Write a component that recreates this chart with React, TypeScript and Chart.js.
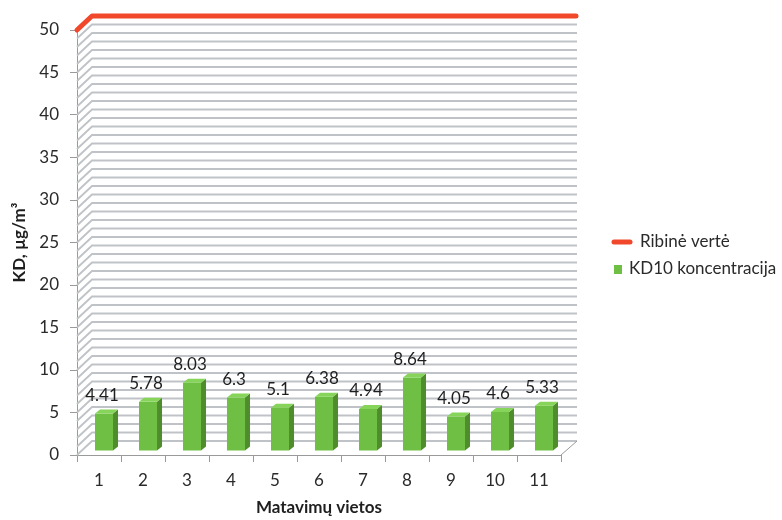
import React, { useEffect, useRef } from 'react';
import { Chart, registerables } from 'chart.js';

Chart.register(...registerables);

const categories = ['1', '2', '3', '4', '5', '6', '7', '8', '9', '10', '11'];
const kd10Values = [4.41, 5.78, 8.03, 6.3, 5.1, 6.38, 4.94, 8.64, 4.05, 4.6, 5.33];
const limitValues = [50, 50, 50, 50, 50, 50, 50, 50, 50, 50, 50];
const seriesNames = ['Ribinė vertė', 'KD10 koncentracija'];
const axisTitles = { x: 'Matavimų vietos', y: 'KD, µg/m³' };
const yMin = 0;
const yMax = 50;
const yMajorStep = 5;
const yMinorStep = 1;

const FONT = 'Lato, "Open Sans", sans-serif';
const RED = '#F1482B';
const GREEN = '#6FBF44';
const GREEN_SIDE = '#4E8C2C';
const GREEN_TOP = '#86D45A';
const GRID = '#bfc3c7';
const AXIS = '#9a9a9a';
const TEXT = '#2a2a2a';

// 3D geometry
const WALL_DX = 15;
const WALL_DY = 14;
const BAR_OFF_X = 5;
const BAR_OFF_Y = 4;
const BAR_DEPTH_X = 5;
const BAR_DEPTH_Y = 4;

const threeD = {
  id: 'threeD',
  beforeDatasetsDraw(chart: any) {
    const { ctx, chartArea, scales } = chart;
    const ys = scales.y;
    ctx.save();
    ctx.strokeStyle = GRID;
    ctx.lineWidth = 1.8;
    for (let v = yMin; v <= yMax; v += yMinorStep) {
      const y = ys.getPixelForValue(v);
      ctx.beginPath();
      ctx.moveTo(chartArea.left, y);
      ctx.lineTo(chartArea.left + WALL_DX, y - WALL_DY);
      ctx.lineTo(chartArea.right + WALL_DX + 1, y - WALL_DY);
      ctx.stroke();
    }
    // floor right edge
    const y0 = ys.getPixelForValue(yMin);
    ctx.strokeStyle = AXIS;
    ctx.lineWidth = 1;
    ctx.beginPath();
    ctx.moveTo(chartArea.right, y0);
    ctx.lineTo(chartArea.right + WALL_DX + 1, y0 - WALL_DY);
    ctx.stroke();

    // limit line on back wall
    const lineMeta = chart.getDatasetMeta(0);
    const limit = chart.data.datasets[0].data[0];
    const yl = ys.getPixelForValue(limit);
    if (!lineMeta.hidden) {
      ctx.strokeStyle = RED;
      ctx.lineWidth = 5;
      ctx.lineCap = 'round';
      ctx.lineJoin = 'round';
      ctx.beginPath();
      ctx.moveTo(chartArea.left, yl);
      ctx.lineTo(chartArea.left + WALL_DX, yl - WALL_DY);
      ctx.lineTo(chartArea.right + WALL_DX, yl - WALL_DY);
      ctx.stroke();
    }
    ctx.restore();
  },
  beforeDatasetDraw(chart: any, args: any) {
    if (args.index === 1) {
      chart.ctx.save();
      chart.ctx.translate(BAR_OFF_X, -BAR_OFF_Y);
    }
  },
  afterDatasetDraw(chart: any, args: any) {
    if (args.index !== 1) return;
    const ctx = chart.ctx;
    const meta = chart.getDatasetMeta(1);
    meta.data.forEach((bar: any) => {
      const half = bar.width / 2;
      const r = bar.x + half;
      const l = bar.x - half;
      ctx.fillStyle = GREEN_SIDE;
      ctx.beginPath();
      ctx.moveTo(r, bar.y);
      ctx.lineTo(r + BAR_DEPTH_X, bar.y - BAR_DEPTH_Y);
      ctx.lineTo(r + BAR_DEPTH_X, bar.base - BAR_DEPTH_Y);
      ctx.lineTo(r, bar.base);
      ctx.closePath();
      ctx.fill();
      ctx.fillStyle = GREEN_TOP;
      ctx.beginPath();
      ctx.moveTo(l, bar.y);
      ctx.lineTo(l + BAR_DEPTH_X, bar.y - BAR_DEPTH_Y);
      ctx.lineTo(r + BAR_DEPTH_X, bar.y - BAR_DEPTH_Y);
      ctx.lineTo(r, bar.y);
      ctx.closePath();
      ctx.fill();
    });
    // value labels
    ctx.fillStyle = '#1e1e1e';
    ctx.font = `17px ${FONT}`;
    ctx.textAlign = 'center';
    ctx.textBaseline = 'middle';
    const values = chart.data.datasets[1].data;
    meta.data.forEach((bar: any, i: number) => {
      ctx.fillText(String(values[i]), bar.x - 2, bar.y - 18);
    });
    ctx.restore();
  },
  afterDraw(chart: any) {
    const ctx = chart.ctx;
    ctx.save();
    ctx.font = `17px ${FONT}`;
    ctx.fillStyle = TEXT;
    ctx.textBaseline = 'middle';
    ctx.textAlign = 'left';
    const ds = chart.data.datasets;
    // item 1: line marker
    ctx.strokeStyle = ds[0].borderColor;
    ctx.lineWidth = 5;
    ctx.lineCap = 'round';
    ctx.beginPath();
    ctx.moveTo(614, 242);
    ctx.lineTo(630, 242);
    ctx.stroke();
    ctx.fillText(ds[0].label, 640, 242);
    // item 2: square marker
    ctx.fillStyle = ds[1].backgroundColor;
    ctx.fillRect(614, 265, 8, 9);
    ctx.fillStyle = TEXT;
    ctx.fillText(ds[1].label, 629, 269);
    ctx.restore();
  },
};

export default function App() {
  const ref = useRef<HTMLCanvasElement | null>(null);
  useEffect(() => {
    if (!ref.current) return;
    Chart.defaults.font.family = FONT;
    const chart = new Chart(ref.current, {
      type: 'bar',
      data: {
        labels: categories,
        datasets: [
          {
            type: 'line',
            label: seriesNames[0],
            data: limitValues,
            borderColor: RED,
            backgroundColor: RED,
            borderWidth: 0,
            pointRadius: 0,
            showLine: false,
          } as any,
          {
            type: 'bar',
            label: seriesNames[1],
            data: kd10Values,
            backgroundColor: GREEN,
            borderWidth: 0,
            barPercentage: 0.41,
            categoryPercentage: 1,
            clip: false,
          } as any,
        ],
      },
      plugins: [threeD],
      options: {
        animation: false,
        responsive: true,
        maintainAspectRatio: false,
        layout: { padding: { top: 30, right: 221, left: 0, bottom: 0 } },
        plugins: {
          legend: { display: false },
          tooltip: { enabled: false },
        },
        scales: {
          x: {
            offset: true,
            grid: {
              display: true,
              offset: true,
              drawOnChartArea: false,
              drawTicks: true,
              tickLength: 7,
              color: AXIS,
            },
            border: { display: true, color: AXIS },
            ticks: { color: TEXT, font: { size: 17, family: FONT }, padding: 8, maxRotation: 0 },
            title: {
              display: true,
              text: axisTitles.x,
              color: '#1e1e1e',
              font: { size: 17, weight: 'bold', family: FONT },
              padding: { top: 0, bottom: 2 },
            },
            afterFit: (s: any) => {
              s.height = 65;
            },
          },
          y: {
            min: yMin,
            max: yMax,
            grid: {
              display: true,
              drawOnChartArea: false,
              drawTicks: true,
              tickLength: 7,
              color: AXIS,
            },
            border: { display: true, color: AXIS },
            ticks: { stepSize: yMajorStep, color: TEXT, font: { size: 17, family: FONT }, padding: 11 },
            title: {
              display: true,
              text: axisTitles.y,
              color: '#1e1e1e',
              font: { size: 17, weight: 'bold', family: FONT },
              padding: { top: 9, bottom: 0 },
            },
            afterFit: (s: any) => {
              s.width = 77;
            },
          },
        },
      },
    });
    return () => chart.destroy();
  }, []);
  return (
    <div style={{ position: 'absolute', left: 0, top: 0, width: 782, height: 520, background: '#fff' }}>
      <canvas ref={ref} />
    </div>
  );
}
